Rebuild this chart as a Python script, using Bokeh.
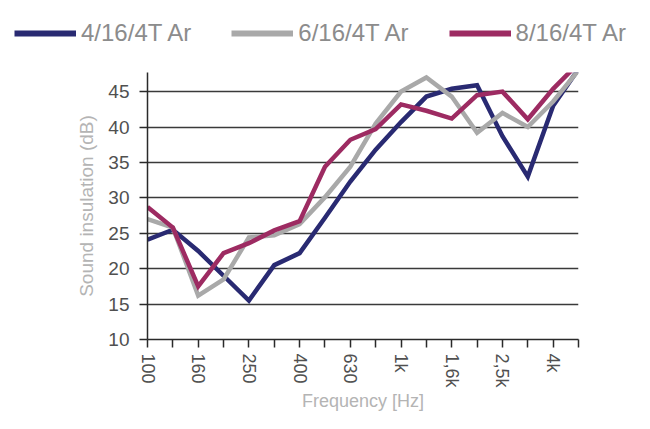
from bokeh.plotting import figure
from bokeh.models import FixedTicker, Legend, LegendItem, Range1d
from bokeh.embed import file_html
from bokeh.resources import INLINE

# 1/3-octave band frequencies (Hz) and their axis labels
freqs = [100, 125, 160, 200, 250, 315, 400, 500, 630, 800, 1000, 1250, 1600, 2000, 2500, 3150, 4000, 5000]
freq_labels = ["100", "125", "160", "200", "250", "315", "400", "500", "630", "800",
               "1k", "1,25k", "1,6k", "2k", "2,5k", "3,15k", "4k", "5k"]
shown_labels = ["100", "160", "250", "400", "630", "1k", "1,6k", "2,5k", "4k"]

series_names = ["4/16/4T Ar", "6/16/4T Ar", "8/16/4T Ar"]
r_4_16_4 = [24.1, 25.5, 22.5, 19.0, 15.5, 20.5, 22.2, 27.2, 32.3, 36.8, 40.7, 44.3, 45.4, 45.9, 38.7, 33.0, 43.0, 48.2]
r_6_16_4 = [27.0, 25.8, 16.2, 18.5, 24.4, 24.7, 26.3, 30.1, 34.4, 40.5, 45.0, 47.0, 44.3, 39.2, 42.0, 40.0, 43.6, 48.0]
r_8_16_4 = [28.7, 25.8, 17.5, 22.2, 23.6, 25.4, 26.7, 34.4, 38.2, 39.7, 43.2, 42.3, 41.2, 44.5, 45.0, 41.1, 45.4, 49.0]
colors = ["#292a72", "#a9a9a9", "#9d2b62"]
series = [r_4_16_4, r_6_16_4, r_8_16_4]

y_ticks = [10, 15, 20, 25, 30, 35, 40, 45]

x = list(range(len(freqs)))

W = 634
LEG_H = 60
H = 413 - LEG_H
TOP, BOTTOM, LEFT, RIGHT = 12, 69, 147, 56
LINE_W = 4.5

# ---- legend strip: its own small figure (separate root) above the chart ----
# the series are drawn here too but fall outside this strip's ranges, so only the legend shows
lg = figure(width=W, height=LEG_H, output_backend="svg", toolbar_location=None,
            x_range=Range1d(-100, -99), y_range=Range1d(-100, -99),
            x_axis_type=None, y_axis_type=None,
            min_border_left=0, min_border_right=0, min_border_top=0, min_border_bottom=0)
lg.outline_line_color = None
lg.xgrid.grid_line_color = None
lg.ygrid.grid_line_color = None
leg_renderers = [lg.line(x, ys, line_color=c, line_width=6) for ys, c in zip(series, colors)]
legend = Legend(items=[LegendItem(label=n, renderers=[r]) for n, r in zip(series_names, leg_renderers)],
                orientation="horizontal", location=(14, 12),
                glyph_width=62, glyph_height=30, label_height=30, label_standoff=5,
                spacing=40, padding=0, margin=0,
                label_text_font="Liberation Sans", label_text_font_size="24px",
                label_text_color="#8c8c8c", border_line_color=None,
                background_fill_alpha=0)
lg.add_layout(legend, "center")

# ---- main chart ----
p = figure(width=W, height=H, output_backend="svg", toolbar_location=None,
           x_range=Range1d(0, len(freqs) - 1), y_range=Range1d(10, 47.7),
           min_border_left=LEFT, min_border_right=RIGHT, min_border_top=TOP, min_border_bottom=BOTTOM)
p.outline_line_color = None
p.background_fill_color = "white"
p.border_fill_color = "white"

for ys, c in zip(series, colors):
    p.line(x, ys, line_color=c, line_width=LINE_W, line_join="miter")

p.xaxis.ticker = FixedTicker(ticks=x)
p.xaxis.major_label_overrides = {i: (lab if lab in shown_labels else "") for i, lab in zip(x, freq_labels)}
p.xaxis.major_label_orientation = "vertical"
p.yaxis.ticker = FixedTicker(ticks=y_ticks)
for ax in (p.xaxis, p.yaxis):
    ax.axis_line_color = "#2a2a2a"
    ax.axis_line_width = 1.5
    ax.major_tick_line_color = "#2a2a2a"
    ax.major_tick_line_width = 1.5
    ax.major_tick_out = 8
    ax.major_tick_in = 0
    ax.minor_tick_line_color = None
    ax.major_label_text_font = "Liberation Sans"
    ax.major_label_text_color = "#505050"
    ax.axis_label_text_font = "Liberation Sans"
    ax.axis_label_text_font_style = "normal"
    ax.axis_label_text_color = "#b4b4b4"
p.yaxis.major_label_text_font_size = "19px"
p.xaxis.major_label_text_font_size = "18px"
p.yaxis.axis_label_text_font_size = "19px"
p.xaxis.axis_label_text_font_size = "18px"
p.xaxis.major_label_standoff = 6
p.yaxis.major_label_standoff = 10
p.xaxis.axis_label = "Frequency [Hz]"
p.yaxis.axis_label = "Sound insulation (dB)"
p.xaxis.axis_label_standoff = 0
p.yaxis.axis_label_standoff = 8

p.xgrid.grid_line_color = None
p.ygrid.ticker = FixedTicker(ticks=y_ticks)
p.ygrid.grid_line_color = "#3a3a3a"
p.ygrid.grid_line_width = 1.5

open("out.html", "w").write(file_html([lg, p], INLINE))
